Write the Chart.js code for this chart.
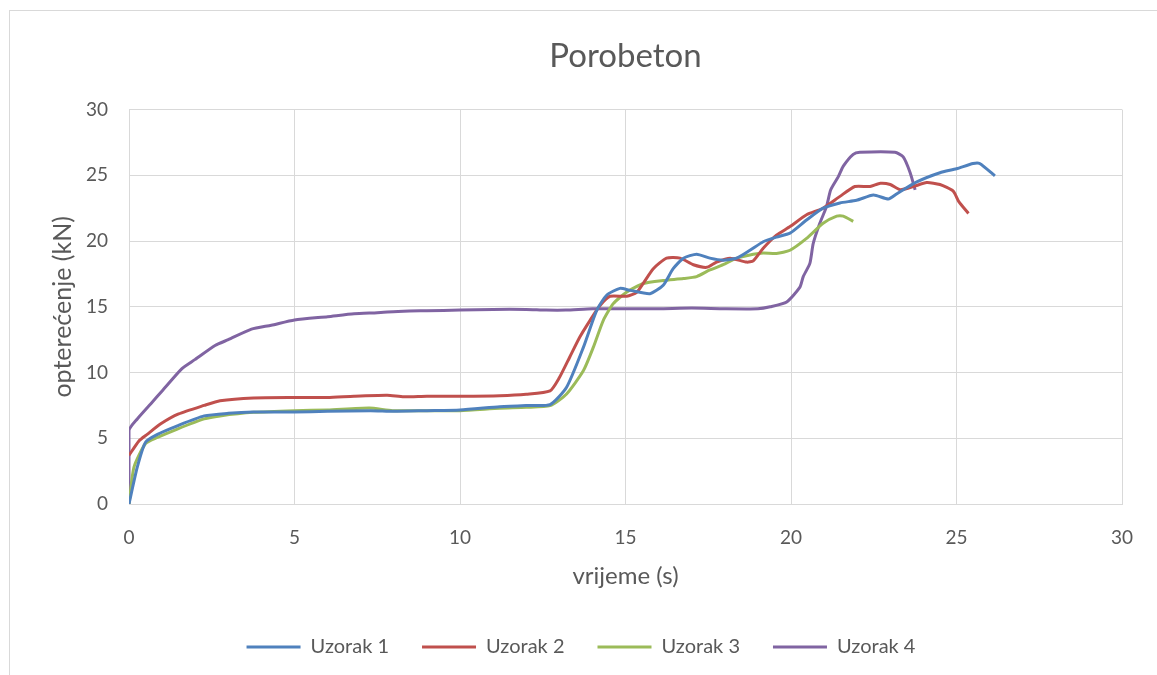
<!DOCTYPE html>
<html>
<head>
<meta charset="utf-8">
<script src="https://cdn.jsdelivr.net/npm/chart.js@4"></script>
<style>
  html, body { margin: 0; padding: 0; background: #fff; }
  #wrap { position: relative; width: 1157px; height: 675px; }
  #frame { position: absolute; left: 9px; top: 10px; width: 1160px; height: 680px; border: 1px solid #d9d9d9; box-sizing: border-box; }
  canvas { position: absolute; left: 0; top: 0; }
</style>
</head>
<body>
<div id="wrap">
  <div id="frame"></div>
  <canvas id="chart" width="1157" height="675"></canvas>
</div>
<script>
// vrijeme (s) i opterećenje (kN), očitano s grafa
const time1 = [0, 0.25, 0.5, 0.86, 1.46, 2.27, 3.0, 3.76, 5.0, 6.0, 7.3, 8.0, 9.0, 10.0, 11.2, 12.0, 12.72, 13.22, 13.73, 14.13, 14.43, 14.83, 15.14, 15.74, 16.14, 16.44, 16.75, 17.15, 17.55, 17.95, 18.36, 18.76, 19.16, 19.56, 19.97, 20.47, 20.97, 21.48, 21.98, 22.49, 22.94, 23.2, 23.8, 24.5, 25.0, 25.5, 25.7, 26.16];
const load1 = [0, 2.8, 4.7, 5.3, 5.95, 6.7, 6.9, 7.0, 7.0, 7.05, 7.1, 7.05, 7.1, 7.15, 7.4, 7.5, 7.56, 8.88, 11.93, 14.73, 15.88, 16.4, 16.25, 16.0, 16.64, 17.9, 18.7, 19.0, 18.7, 18.55, 18.7, 19.3, 19.95, 20.3, 20.6, 21.6, 22.5, 22.9, 23.1, 23.5, 23.2, 23.6, 24.5, 25.2, 25.5, 25.9, 25.9, 24.96];

const time2 = [0, 0.3, 0.55, 0.96, 1.5, 2.27, 2.75, 3.76, 5.0, 6.0, 6.8, 7.8, 8.3, 9.0, 10.0, 11.2, 12.0, 12.72, 13.0, 13.32, 13.62, 13.93, 14.23, 14.53, 15.04, 15.34, 15.54, 15.84, 16.24, 16.65, 17.05, 17.45, 17.75, 18.16, 18.66, 18.86, 19.16, 19.56, 19.97, 20.47, 20.97, 21.48, 21.93, 22.39, 22.7, 23.0, 23.3, 23.7, 24.1, 24.5, 24.9, 25.07, 25.36];
const load2 = [3.7, 4.8, 5.3, 6.1, 6.85, 7.5, 7.86, 8.07, 8.1, 8.1, 8.2, 8.27, 8.15, 8.2, 8.2, 8.24, 8.35, 8.6, 9.6, 11.2, 12.7, 13.97, 15.1, 15.8, 15.8, 16.1, 16.8, 17.9, 18.7, 18.7, 18.2, 18.0, 18.4, 18.7, 18.4, 18.5, 19.45, 20.45, 21.1, 22.0, 22.5, 23.4, 24.15, 24.15, 24.4, 24.3, 23.9, 24.15, 24.45, 24.3, 23.8, 23.0, 22.1];

const time3 = [0, 0.15, 0.5, 0.86, 1.46, 2.27, 2.75, 3.76, 5.0, 6.0, 7.26, 7.96, 9.0, 10.0, 11.2, 12.0, 12.72, 13.22, 13.73, 14.03, 14.33, 14.63, 15.04, 15.54, 16.14, 16.75, 17.15, 17.55, 17.95, 18.36, 18.86, 19.16, 19.56, 19.97, 20.47, 20.97, 21.38, 21.58, 21.88];
const load3 = [0, 2.8, 4.6, 5.06, 5.7, 6.47, 6.7, 6.97, 7.1, 7.15, 7.3, 7.1, 7.1, 7.1, 7.28, 7.35, 7.48, 8.37, 10.15, 11.93, 13.97, 15.24, 16.13, 16.77, 17.0, 17.15, 17.3, 17.8, 18.2, 18.7, 19.0, 19.1, 19.05, 19.3, 20.2, 21.35, 21.9, 21.9, 21.5];

const time4 = [0, 0, 0.25, 0.7, 1.0, 1.6, 2.0, 2.6, 3.0, 3.7, 4.3, 5.0, 6.0, 6.8, 7.5, 8.3, 9.0, 10.0, 11.0, 12.0, 12.6, 13.2, 14.0, 15.0, 16.0, 17.0, 18.0, 19.0, 19.37, 19.87, 20.27, 20.37, 20.57, 20.67, 20.87, 21.07, 21.2, 21.43, 21.58, 21.88, 22.08, 23.14, 23.39, 23.6, 23.75];
const load4 = [0, 5.6, 6.47, 7.74, 8.6, 10.3, 11.0, 12.06, 12.5, 13.3, 13.6, 14.0, 14.25, 14.47, 14.55, 14.67, 14.7, 14.75, 14.8, 14.8, 14.75, 14.75, 14.85, 14.85, 14.85, 14.9, 14.85, 14.85, 15.0, 15.37, 16.5, 17.3, 18.3, 19.8, 21.35, 22.6, 23.9, 24.9, 25.7, 26.6, 26.75, 26.75, 26.4, 25.2, 23.9];

const seriesNames = ['Uzorak 1', 'Uzorak 2', 'Uzorak 3', 'Uzorak 4'];
const seriesColors = ['#4F81BD', '#C0504D', '#9BBB59', '#8064A2'];
const times = [time1, time2, time3, time4];
const loads = [load1, load2, load3, load4];

const textColor = '#595959';
const gridColor = '#d9d9d9';
const fontFamily = 'Lato, "Open Sans", sans-serif';

function makeDataset(i) {
    return {
        label: seriesNames[i],
        data: times[i].map((t, k) => ({ x: t, y: loads[i][k] })),
        borderColor: seriesColors[i],
        backgroundColor: seriesColors[i],
        borderWidth: 3,
        pointRadius: 0,
        tension: 0.2,
        fill: false
    };
}

const ctx = document.getElementById('chart').getContext('2d');
new Chart(ctx, {
    type: 'line',
    data: { datasets: [0, 1, 2, 3].map(makeDataset) },
    options: {
        responsive: false,
        animation: false,
        layout: { padding: { top: 10, bottom: 8, left: 40, right: 35 } },
        scales: {
            x: {
                type: 'linear',
                min: 0,
                max: 30,
                ticks: { stepSize: 5, color: textColor, padding: 22, font: { family: fontFamily, size: 19 } },
                grid: { color: gridColor, drawTicks: false },
                border: { color: gridColor },
                title: { display: true, text: 'vrijeme (s)', color: textColor, padding: { top: 0, bottom: 13 }, font: { family: fontFamily, size: 24 } },
                afterFit: (scale) => { scale.height = 100; }
            },
            y: {
                min: 0,
                max: 30,
                ticks: { stepSize: 5, color: textColor, padding: 21, font: { family: fontFamily, size: 19 } },
                grid: { color: gridColor, drawTicks: false },
                border: { color: gridColor },
                title: { display: true, text: 'opterećenje (kN)', color: textColor, padding: { top: 8, bottom: 0 }, font: { family: fontFamily, size: 25 } },
                afterFit: (scale) => { scale.width = 89; }
            }
        },
        plugins: {
            title: {
                display: true,
                fullSize: false,
                text: 'Porobeton',
                color: textColor,
                padding: { top: 27, bottom: 33 },
                font: { family: fontFamily, size: 33, weight: 'normal' }
            },
            legend: {
                position: 'bottom',
                labels: {
                    color: textColor,
                    boxWidth: 54,
                    boxHeight: 3,
                    padding: 33,
                    font: { family: fontFamily, size: 20 },
                    generateLabels: (chart) => Chart.defaults.plugins.legend.labels.generateLabels(chart).map(item => {
                        item.lineWidth = 0;
                        return item;
                    })
                }
            },
            tooltip: { enabled: false }
        }
    }
});
</script>
</body>
</html>
